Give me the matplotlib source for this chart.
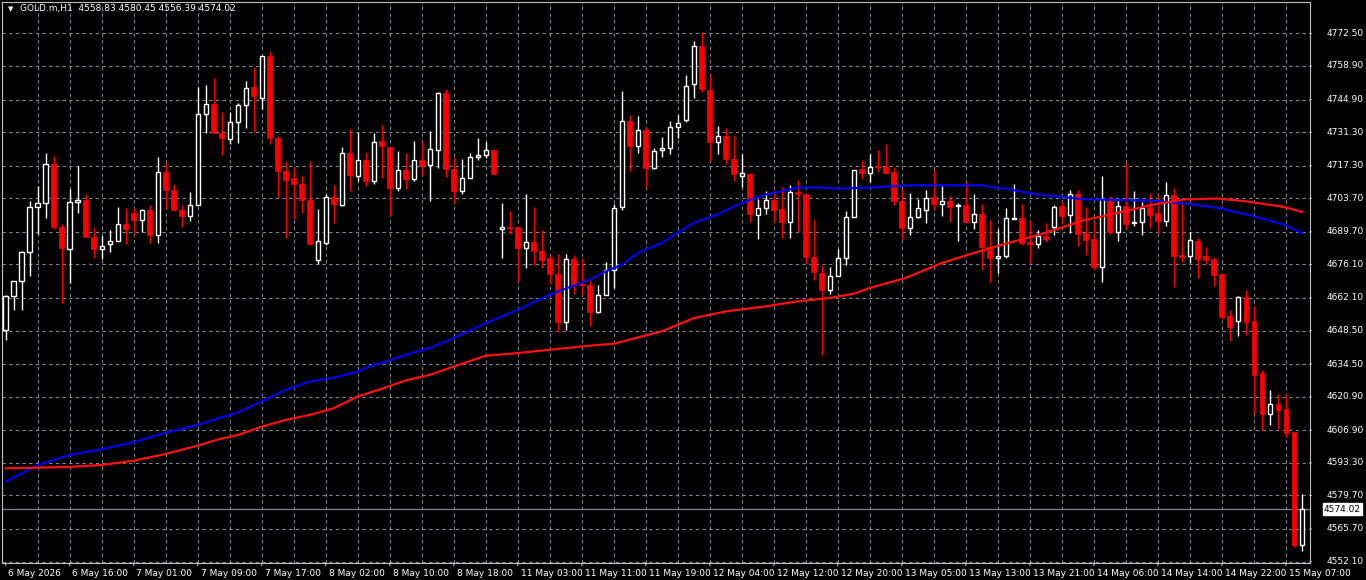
import numpy as np
import matplotlib.pyplot as plt
from matplotlib.patches import Polygon

# GOLD.m H1 candles (oldest -> newest)
opens = [4648.6, 4662.8, 4669.1, 4681.2, 4700.0, 4701.7, 4718.0, 4691.9, 4682.7, 4702.1,
         4702.9, 4687.7, 4682.7, 4684.5, 4685.8, 4692.9, 4697.5, 4694.6, 4698.8, 4688.3,
         4714.6, 4707.3, 4698.9, 4696.2, 4700.8, 4739.0, 4743.2, 4731.1, 4728.3, 4735.6,
         4742.7, 4750.3, 4745.5, 4762.9, 4728.9, 4715.2, 4712.3, 4709.8, 4703.1, 4677.8,
         4685.1, 4704.3, 4701.0, 4722.6, 4713.0, 4719.8, 4710.9, 4727.8, 4725.2, 4707.8,
         4715.6, 4711.6, 4719.8, 4717.4, 4723.9, 4747.7, 4716.0, 4706.7, 4712.1, 4720.9,
         4721.8, 4723.9, 4690.8, 4691.6, 4691.6, 4683.1, 4685.4, 4681.6, 4678.7, 4672.1,
         4651.9, 4678.3, 4667.9, 4667.4, 4656.4, 4663.5, 4673.9, 4700.0, 4736.1, 4725.5,
         4732.2, 4716.2, 4723.8, 4724.7, 4733.5, 4736.3, 4751.3, 4767.3, 4748.9, 4727.2,
         4729.7, 4720.2, 4713.0, 4714.0, 4696.7, 4699.6, 4702.9, 4699.3, 4694.0, 4706.3,
         4705.4, 4679.2, 4672.6, 4665.6, 4671.2, 4678.7, 4695.8, 4716.0, 4714.4, 4717.0,
         4716.9, 4714.8, 4702.7, 4691.5, 4695.8, 4699.0, 4704.3, 4701.5, 4702.7, 4700.4,
         4701.0, 4693.9, 4697.1, 4683.4, 4678.8, 4679.4, 4695.0, 4695.4, 4685.5, 4684.8,
         4687.9, 4691.8, 4700.4, 4696.9, 4705.4, 4689.2, 4686.7, 4675.1, 4703.2, 4689.5,
         4700.4, 4693.4, 4693.7, 4700.1, 4697.6, 4694.1, 4705.0, 4680.0, 4679.7, 4685.9,
         4679.6, 4678.3, 4671.9, 4654.5, 4652.4, 4662.3, 4652.3, 4630.7, 4613.7, 4618.0,
         4615.6, 4606.3, 4558.83]
highs = [4663.5, 4669.1, 4681.6, 4702.5, 4708.8, 4722.7, 4721.3, 4693.0, 4707.7, 4717.2,
         4705.6, 4691.8, 4687.9, 4690.4, 4700.1, 4699.6, 4699.6, 4699.3, 4701.0, 4720.9,
         4718.8, 4709.8, 4701.0, 4706.4, 4750.3, 4750.8, 4753.7, 4739.5, 4739.9, 4743.6,
         4752.8, 4758.3, 4763.2, 4765.0, 4729.7, 4719.4, 4716.7, 4713.0, 4719.4, 4699.3,
         4705.4, 4709.2, 4725.2, 4732.8, 4731.4, 4723.0, 4731.1, 4734.4, 4725.2, 4723.6,
         4722.7, 4727.8, 4727.3, 4731.8, 4748.2, 4749.5, 4721.1, 4720.2, 4722.6, 4728.9,
         4727.2, 4723.9, 4701.7, 4698.3, 4691.6, 4705.4, 4700.1, 4690.4, 4680.2, 4680.5,
         4680.5, 4679.9, 4678.7, 4669.8, 4667.4, 4677.0, 4701.1, 4748.5, 4738.6, 4738.1,
         4733.5, 4724.7, 4729.4, 4736.0, 4738.5, 4755.2, 4769.4, 4773.2, 4755.2, 4733.9,
         4733.1, 4730.3, 4722.3, 4714.4, 4703.2, 4706.7, 4706.0, 4708.5, 4709.2, 4711.4,
         4705.4, 4695.1, 4676.0, 4674.9, 4682.6, 4698.2, 4715.6, 4719.5, 4722.3, 4724.0,
         4726.5, 4716.9, 4707.7, 4706.0, 4703.5, 4707.3, 4715.8, 4708.7, 4704.6, 4701.8,
         4710.5, 4705.4, 4701.3, 4694.7, 4690.7, 4699.7, 4709.8, 4701.4, 4694.2, 4690.4,
         4693.5, 4701.0, 4702.7, 4707.2, 4707.1, 4700.0, 4694.4, 4713.1, 4704.7, 4702.9,
         4718.9, 4706.8, 4702.2, 4705.9, 4705.0, 4710.5, 4708.0, 4702.2, 4689.6, 4687.3,
         4683.5, 4679.2, 4672.2, 4656.9, 4662.9, 4665.4, 4658.8, 4632.1, 4623.6, 4622.2,
         4622.0, 4606.3, 4580.45]
lows = [4644.7, 4656.9, 4657.2, 4671.4, 4688.6, 4695.3, 4690.7, 4660.0, 4668.4, 4697.4,
        4687.7, 4678.8, 4678.5, 4681.3, 4685.8, 4684.8, 4688.7, 4689.8, 4685.1, 4685.1,
        4699.3, 4698.6, 4691.9, 4694.4, 4700.8, 4731.1, 4731.0, 4721.6, 4726.2, 4726.9,
        4732.9, 4731.4, 4740.9, 4726.2, 4703.9, 4687.3, 4695.1, 4697.4, 4684.0, 4676.4,
        4684.0, 4693.5, 4700.4, 4706.6, 4710.7, 4708.8, 4709.5, 4712.3, 4696.5, 4706.6,
        4707.4, 4710.7, 4713.3, 4702.4, 4716.2, 4712.7, 4701.3, 4705.3, 4712.1, 4719.7,
        4720.6, 4713.7, 4678.7, 4688.6, 4669.1, 4674.4, 4676.0, 4674.6, 4668.0, 4647.8,
        4648.9, 4663.9, 4663.5, 4650.2, 4655.8, 4663.5, 4666.3, 4698.6, 4714.9, 4722.5,
        4707.8, 4715.8, 4720.8, 4722.0, 4729.0, 4735.7, 4745.7, 4748.2, 4719.3, 4722.0,
        4717.9, 4710.7, 4708.2, 4694.0, 4686.9, 4697.0, 4693.7, 4687.0, 4687.0, 4689.6,
        4676.4, 4669.5, 4638.1, 4663.9, 4671.2, 4676.0, 4695.8, 4711.6, 4710.6, 4714.8,
        4713.8, 4700.7, 4686.5, 4688.4, 4695.3, 4693.5, 4699.0, 4696.5, 4693.7, 4685.7,
        4693.7, 4691.0, 4673.9, 4668.9, 4672.7, 4678.7, 4695.0, 4684.3, 4676.7, 4682.9,
        4685.5, 4688.4, 4693.0, 4689.4, 4683.6, 4680.2, 4673.9, 4668.7, 4688.7, 4685.9,
        4691.0, 4692.1, 4688.5, 4691.3, 4689.2, 4692.1, 4666.6, 4677.1, 4676.5, 4670.5,
        4676.1, 4667.2, 4653.4, 4644.2, 4646.4, 4646.7, 4613.7, 4607.1, 4609.1, 4607.4,
        4603.9, 4558.2, 4556.39]
closes = [4662.8, 4669.1, 4681.2, 4700.0, 4701.7, 4718.0, 4691.9, 4683.1, 4702.1, 4702.9,
          4687.7, 4682.7, 4683.7, 4685.8, 4692.9, 4690.7, 4694.6, 4698.8, 4688.3, 4714.6,
          4707.0, 4698.6, 4696.1, 4700.8, 4739.0, 4743.2, 4731.0, 4728.7, 4735.6, 4742.7,
          4749.8, 4746.3, 4762.9, 4728.7, 4714.9, 4711.2, 4709.5, 4702.8, 4684.8, 4685.8,
          4704.3, 4701.1, 4722.6, 4713.3, 4719.8, 4710.7, 4727.3, 4725.5, 4708.0, 4715.6,
          4711.6, 4719.8, 4717.2, 4724.1, 4747.7, 4715.8, 4706.6, 4712.1, 4720.9, 4721.8,
          4723.9, 4714.0, 4691.6, 4691.4, 4683.1, 4685.4, 4681.5, 4678.1, 4671.9, 4651.9,
          4678.3, 4667.7, 4667.3, 4656.4, 4663.5, 4673.9, 4699.6, 4735.8, 4725.4, 4732.2,
          4716.2, 4723.4, 4724.7, 4733.5, 4735.1, 4750.6, 4767.3, 4749.2, 4727.2, 4729.7,
          4719.9, 4713.7, 4714.2, 4697.0, 4699.6, 4702.9, 4699.0, 4694.0, 4706.3, 4705.3,
          4679.0, 4672.8, 4665.6, 4671.2, 4678.7, 4695.8, 4715.6, 4714.4, 4716.7, 4716.6,
          4714.1, 4702.4, 4691.5, 4695.8, 4699.7, 4703.9, 4701.4, 4702.5, 4700.1, 4700.8,
          4693.7, 4697.1, 4683.4, 4678.8, 4679.4, 4695.4, 4695.4, 4685.1, 4684.8, 4687.9,
          4686.8, 4700.1, 4696.5, 4705.4, 4688.9, 4686.4, 4675.1, 4703.2, 4689.8, 4700.4,
          4693.1, 4693.8, 4699.7, 4696.9, 4694.4, 4705.0, 4679.6, 4679.3, 4686.1, 4678.3,
          4677.9, 4671.8, 4654.1, 4649.9, 4662.3, 4652.1, 4630.0, 4613.7, 4618.0, 4615.5,
          4605.7, 4558.9, 4574.02]

# moving averages, read at a few bars
ma_blue_x = [0, 4, 8, 12, 16, 20, 24, 26.8, 29, 32, 35, 38, 41, 44, 46, 48, 50, 53, 56, 60,
             64, 68, 73, 75, 77, 79, 82, 86, 89, 92, 95, 98, 99, 102, 104, 108, 113, 117,
             122, 123, 125, 127.6, 130, 134.7, 139, 143, 148, 151.4, 155.5, 159.7, 162]
ma_blue_y = [4585.4, 4592.4, 4596.6, 4599.0, 4601.9, 4605.9, 4609.1, 4612.2, 4614.3, 4618.9,
             4623.8, 4627.2, 4628.9, 4631.4, 4634.2, 4636.0, 4638.4, 4641.2, 4645.4, 4651.6,
             4657.2, 4663.5, 4669.8, 4673.2, 4676.0, 4680.9, 4685.1, 4693.5, 4697.0, 4701.8,
             4705.3, 4707.4, 4708.2, 4708.2, 4707.7, 4708.2, 4709.1, 4709.1, 4709.1, 4708.4,
             4707.7, 4706.0, 4704.9, 4703.3, 4703.0, 4702.7, 4701.3, 4699.7, 4696.6, 4692.7,
             4689.2]
ma_red_x = [0, 4, 8, 12, 16, 20, 24, 26.8, 29, 32, 35, 38, 41, 44, 47, 50, 53, 56, 60, 64,
            68, 73, 76, 79, 82, 86, 90, 95, 99, 103, 106, 108, 112.5, 117, 121, 125, 129.3,
            134.7, 139, 143, 147.3, 151.4, 154.8, 159.7, 162]
ma_red_y = [4591.0, 4591.3, 4591.6, 4592.4, 4594.2, 4597.0, 4600.5, 4603.3, 4604.9, 4608.4,
            4611.2, 4613.3, 4616.1, 4621.0, 4624.2, 4627.7, 4630.0, 4633.5, 4638.0, 4639.1,
            4640.5, 4642.2, 4643.0, 4645.6, 4648.2, 4653.7, 4656.5, 4658.6, 4660.7, 4662.1,
            4663.9, 4666.3, 4670.5, 4676.7, 4680.9, 4684.8, 4688.6, 4694.5, 4697.6, 4700.8,
            4703.2, 4703.6, 4702.5, 4700.1, 4698.0]

price_ticks = [4772.50, 4758.90, 4744.90, 4731.30, 4717.30, 4703.70, 4689.70, 4676.10,
               4662.10, 4648.50, 4634.50, 4620.90, 4606.90, 4593.30, 4579.70, 4565.70, 4552.10]
time_labels = ['6 May 2026', '6 May 16:00', '7 May 01:00', '7 May 09:00', '7 May 17:00',
               '8 May 02:00', '8 May 10:00', '8 May 18:00', '11 May 03:00', '11 May 11:00',
               '11 May 19:00', '12 May 04:00', '12 May 12:00', '12 May 20:00', '13 May 05:00',
               '13 May 13:00', '13 May 21:00', '14 May 06:00', '14 May 14:00', '14 May 22:00',
               '15 May 07:00']
last_price = 4574.02

grid_col = '#778899'
fig = plt.figure(figsize=(13.66, 5.8), dpi=100, facecolor='black')
ax = fig.add_axes([2 / 1366, 17 / 580, 1308 / 1366, 561 / 580])
ax.set_facecolor('black')
n = len(opens)
x = np.arange(n)
ax.set_xlim(-0.46, 163.0)
ax.set_ylim(4551.5, 4785.6)

for p in price_ticks:
    ax.axhline(p, color=grid_col, lw=0.8, ls=(0, (3, 3)), zorder=0)
for i in range(4, n + 2, 4):
    ax.axvline(i, color=grid_col, lw=0.8, ls=(0, (3, 3)), zorder=0)

o = np.array(opens); c = np.array(closes)
up = c >= o
wick_col = np.where(up, 'white', 'red')
ax.vlines(x, lows, highs, colors=wick_col, lw=1, zorder=2)
body_lo = np.minimum(o, c); body_h = np.maximum(np.abs(c - o), 0.25)
ax.bar(x[up], body_h[up], bottom=body_lo[up], width=0.55, color='black',
       edgecolor='white', lw=1, zorder=3)
ax.bar(x[~up], body_h[~up], bottom=body_lo[~up], width=0.62, color='red',
       edgecolor='red', lw=0.5, zorder=3)

ax.plot(ma_blue_x, ma_blue_y, color='#0000ee', lw=1.6, zorder=4)
ax.plot(ma_red_x, ma_red_y, color='#ff1010', lw=1.6, zorder=4)
ax.axhline(last_price, color=grid_col, lw=0.9, zorder=1)

for s in ax.spines.values():
    s.set_color('#c0c0c0'); s.set_linewidth(0.8)
ax.set_xticks([]); ax.set_yticks([])

# right price scale
for p in price_ticks:
    ax.annotate(f'{p:.2f}', (1, p), xycoords=('axes fraction', 'data'), xytext=(12, 0),
                textcoords='offset points', color='white', fontsize=6.5, va='center',
                annotation_clip=False)
    ax.annotate('', (1, p), xycoords=('axes fraction', 'data'), xytext=(3, 0),
                textcoords='offset points', arrowprops=dict(arrowstyle='-', color='#c0c0c0', lw=0.8),
                annotation_clip=False)
ax.annotate(f'{last_price:.2f}', (1, last_price), xycoords=('axes fraction', 'data'),
            xytext=(10, 0), textcoords='offset points', color='black', fontsize=6.5,
            va='center', annotation_clip=False,
            bbox=dict(boxstyle='square,pad=0.15', fc='white', ec='white'))

# time scale
for k, lab in enumerate(time_labels):
    xi = k * 8
    ax.annotate(lab, (xi, 0), xycoords=('data', 'axes fraction'), xytext=(2, -11),
                textcoords='offset points', color='white', fontsize=6.5, va='bottom',
                ha='left', annotation_clip=False)
    ax.annotate('', (xi, 0), xycoords=('data', 'axes fraction'), xytext=(0, -4),
                textcoords='offset points', arrowprops=dict(arrowstyle='-', color='#c0c0c0', lw=0.8),
                annotation_clip=False)

fig.text(8 / 1366, 1 - 9 / 580, '\u25bc', color='white', fontsize=5, va='center')
fig.text(20 / 1366, 1 - 9 / 580, 'GOLD.m,H1  4558.83 4580.45 4556.39 4574.02',
         color='white', fontsize=6.5, va='center')

fig.savefig('out.png', dpi=100, facecolor='black')
